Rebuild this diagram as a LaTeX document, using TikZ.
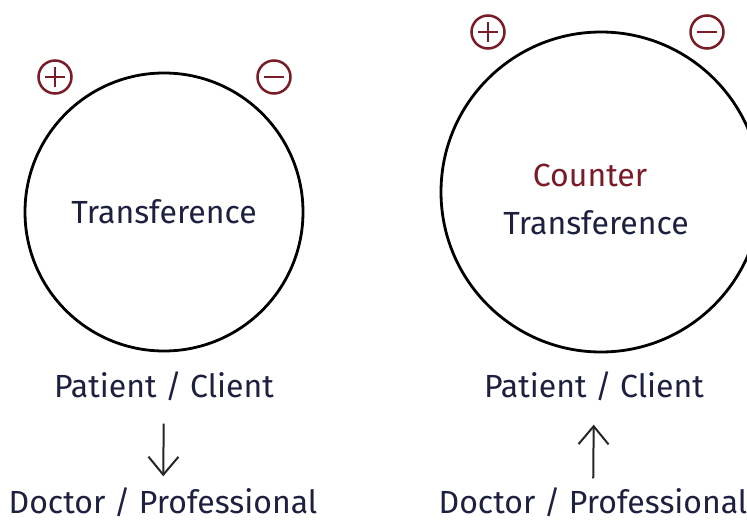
\documentclass[tikz,border=0pt]{standalone}
\usepackage{fontspec}
\setmainfont{Fira Sans}
\usetikzlibrary{arrows.meta}
\definecolor{ink}{HTML}{1D2140}
\definecolor{signred}{HTML}{7A1B28}
\begin{document}
\begin{tikzpicture}[x=1pt,y=-1pt,
  ring/.style={draw=black,line width=2.8pt,circle,inner sep=0pt},
  label/.style={text=ink,font=\fontsize{32}{37}\selectfont,inner sep=0pt,
    text height=24pt,text depth=7pt,anchor=center},
  redlabel/.style={label,text=signred},
  signnode/.style={circle,draw=signred,line width=2.5pt,minimum size=33pt,inner sep=0pt},
  signbar/.style={draw=signred,line width=2.5pt},
  flow/.style={draw=black!85,line width=2pt,
    -{Straight Barb[length=18pt,width=30pt,line width=2pt]}}]
  \useasboundingbox (0,0) rectangle (747,527);
  \fill[white] (0,0) rectangle (747,527);
  \begin{scope}
    \clip (0,0) rectangle (747,527);
    % ---- left: transference ----
    \node[ring,minimum size=278pt] (lc) at (164,212) {};
    \node[label] (lt) at (164,215) {Transference};
    \node[signnode] (lplus) at (55,77) {};
    \draw[signbar] (lplus.center) ++(-10,0) -- ++(20,0);
    \draw[signbar] (lplus.center) ++(0,-10) -- ++(0,20);
    \node[signnode] (lminus) at (274,77) {};
    \draw[signbar] (lminus.center) ++(-10,0) -- ++(20,0);
    \node[label] (lpat) at (164,389) {Patient / Client};
    \node[label] (ldoc) at (163,505) {Doctor / Professional};
    \draw[flow,shorten <=19pt,shorten >=13pt] (lpat) -- (ldoc);
    % ---- right: counter transference ----
    \node[ring,minimum size=320pt] (rc) at (601,192) {};
    \node[redlabel] (rct) at (590,178) {Counter};
    \node[label] (rt) at (596,226) {Transference};
    \node[signnode] (rplus) at (488,32) {};
    \draw[signbar] (rplus.center) ++(-10,0) -- ++(20,0);
    \draw[signbar] (rplus.center) ++(0,-10) -- ++(0,20);
    \node[signnode] (rminus) at (707,32) {};
    \draw[signbar] (rminus.center) ++(-10,0) -- ++(20,0);
    \node[label] (rpat) at (594,389) {Patient / Client};
    \node[label] (rdoc) at (593,505) {Doctor / Professional};
    \draw[flow,shorten <=11pt,shorten >=20pt] (rdoc) -- (rpat);
  \end{scope}
\end{tikzpicture}
\end{document}
